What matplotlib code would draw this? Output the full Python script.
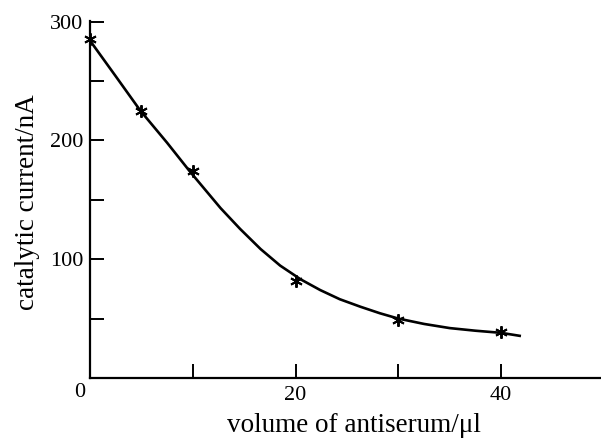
import numpy as np
import matplotlib
matplotlib.use('Agg')
from matplotlib import pyplot as plt

# measured points
volume = [0, 5, 10, 20, 30, 40]
current = [285, 225, 174, 82, 49, 39]

# fitted curve
curve_x = [0, 2.5, 4.9, 7.5, 9.7, 11.2, 12.7, 14.6, 16.6, 18.5, 20.5, 22.4, 24.3,
           26.3, 28.2, 30, 32.5, 35, 37.5, 40, 41.8]
curve_y = [284, 254, 225, 198, 174, 158.5, 143, 125.5, 108.5, 94.6, 83, 74, 66.3,
           60, 54.5, 50, 45.5, 42, 39.8, 38, 35.5]

plt.rcParams['font.family'] = ['Liberation Serif', 'DejaVu Serif']

fig = plt.figure(figsize=(6.01, 4.38), dpi=100)
ax = fig.add_axes([0.1498, 0.137, 0.85, 0.815])

ax.plot(curve_x, curve_y, color='black', lw=1.9, solid_joinstyle='round')
ax.plot(volume, current, linestyle='none', marker=(6, 2, 0), markersize=9,
        markeredgewidth=1.4, color='black', clip_on=False)

ax.set_xlim(0, 49.7)
ax.set_ylim(0, 300.5)
ax.spines['top'].set_visible(False)
ax.spines['right'].set_visible(False)
for s in ['left', 'bottom']:
    ax.spines[s].set_linewidth(1.6)

ax.set_xticks([10, 20, 30, 40])
ax.set_xticklabels(['', '20', '', '40'])
ax.set_yticks([50, 100, 150, 200, 250, 300])
ax.set_yticklabels(['', '100', '', '200', '', '300'])
ax.tick_params(direction='in', length=10, width=1.4, labelsize=16)
ax.tick_params(axis='x', pad=6)
ax.tick_params(axis='y', pad=5)
ax.text(-1.0, -12.5, '0', ha='center', va='center', fontsize=16, clip_on=False)

ax.set_xlabel('volume of antiserum/\u03bcl', fontsize=19.5, va='baseline')
ax.xaxis.set_label_coords(0.516, -0.152)
ax.set_ylabel('catalytic current/nA', fontsize=19.5, va='center')
ax.yaxis.set_label_coords(-0.123, 0.493)

fig.savefig('out.png', dpi=100)
